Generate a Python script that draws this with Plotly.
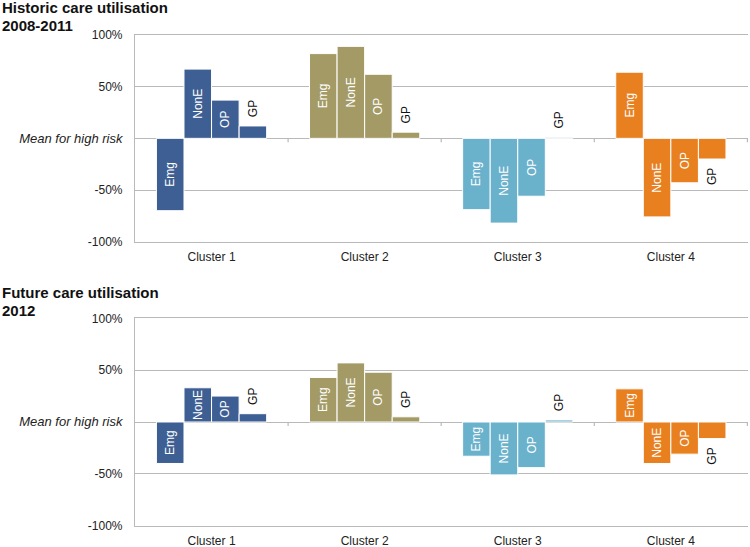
import plotly.graph_objects as go

# ---------------- data ----------------
categories = ["Cluster 1", "Cluster 2", "Cluster 3", "Cluster 4"]
series_names = ["Emg", "NonE", "OP", "GP"]
cluster_colors = ["#3e5f93", "#a39a66", "#6ab1cc", "#e8801f"]

hist_emg = [-70, 82, -69, 64]
hist_none = [67, 89, -82, -76]
hist_op = [37, 62, -56, -43]
hist_gp = [12, 6, 1, -20]

fut_emg = [-40, 43, -33, 32]
fut_none = [33, 57, -51, -40]
fut_op = [25, 48, -44, -31]
fut_gp = [8, 5, 2, -16]

tick_vals = [-100, -50, 0, 50, 100]
tick_text = ["-100%", "-50%", "Mean for high risk", "50%", "100%"]

title_lines = [["Historic care utilisation", "2008-2011"],
               ["Future care utilisation", "2012"]]

# ---------------- figure ----------------
FONT = "Liberation Sans, Arial, Helvetica, sans-serif"
GRID = "#b9b9b9"
W, H = 750, 547

fig = go.Figure()


def gp_text(v):
    pad = "\u00a0\u2009"
    return pad + "GP" if v >= 0 else "GP" + pad


def tick_label(t):
    if t.endswith("%"):
        return t
    return '<span style="font-size:13px"><i>' + t + "</i></span>"


def add_panel(vals_list, xa, ya):
    for name, vals in zip(series_names, vals_list):
        if name == "GP":
            fig.add_trace(go.Bar(
                x=categories, y=vals, name=name,
                text=[gp_text(v) for v in vals],
                textposition="outside", textangle=-90,
                textfont=dict(color="#111111", size=12, family=FONT),
                marker=dict(color=cluster_colors, line=dict(color="white", width=1)),
                cliponaxis=False, constraintext="none",
                xaxis=xa, yaxis=ya, showlegend=False, hoverinfo="skip"))
        else:
            fig.add_trace(go.Bar(
                x=categories, y=vals, name=name,
                text=[name] * len(vals),
                textposition="inside", insidetextanchor="middle", textangle=-90,
                textfont=dict(color="white", size=12, family=FONT),
                marker=dict(color=cluster_colors, line=dict(color="white", width=1)),
                constraintext="none",
                xaxis=xa, yaxis=ya, showlegend=False, hoverinfo="skip"))


add_panel([hist_emg, hist_none, hist_op, hist_gp], "x", "y")
add_panel([fut_emg, fut_none, fut_op, fut_gp], "x2", "y2")

x_dom = [135 / W, 748 / W]
top_dom = [1 - 241.7 / H, 1 - 35 / H]
bot_dom = [1 - 525.7 / H, 1 - 318.3 / H]

xaxis_common = dict(
    domain=x_dom, type="category", categoryorder="array", categoryarray=categories,
    showline=True, mirror=True, linecolor=GRID, linewidth=1.2,
    showgrid=False, ticks="outside", ticklen=4, tickcolor="rgba(0,0,0,0)",
    tickfont=dict(family=FONT, size=12, color="#222222"), fixedrange=True,
    automargin=False,
)
yaxis_common = dict(
    range=[-100, 100], tickvals=tick_vals, ticktext=[tick_label(t) for t in tick_text],
    showline=True, linecolor=GRID, linewidth=1.2,
    showgrid=True, gridcolor=GRID, gridwidth=1.2,
    zeroline=True, zerolinecolor=GRID, zerolinewidth=1.2,
    ticks="outside", ticklen=9, tickcolor="rgba(0,0,0,0)",
    tickfont=dict(family=FONT, size=12, color="#222222"), fixedrange=True,
    automargin=False,
)

fig.update_layout(
    width=W, height=H,
    margin=dict(l=0, r=0, t=0, b=0, autoexpand=False),
    paper_bgcolor="white", plot_bgcolor="white",
    barmode="group", bargap=0.28, bargroupgap=0,
    font=dict(family=FONT, size=12, color="#222222"),
    xaxis=dict(xaxis_common, anchor="y"),
    yaxis=dict(yaxis_common, domain=top_dom, anchor="x"),
    xaxis2=dict(xaxis_common, anchor="y2"),
    yaxis2=dict(yaxis_common, domain=bot_dom, anchor="x2"),
    showlegend=False,
)

# small tick marks on the zero line at category boundaries
shapes = []
for xr, yr in (("x", "y"), ("x2", "y2")):
    for i in range(len(categories)):
        shapes.append(dict(
            type="line", xref=xr, yref=yr, ysizemode="pixel", yanchor=0,
            x0=i + 0.5, x1=i + 0.5, y0=0, y1=-4,
            line=dict(color=GRID, width=1.2)))
fig.update_layout(shapes=shapes)

title_top_px = [-3, 281.5]
for lines, top in zip(title_lines, title_top_px):
    for k, line in enumerate(lines):
        fig.add_annotation(
            text="<b>" + line + "</b>", x=0, y=1 - (top + 18 * k) / H,
            xref="paper", yref="paper",
            xanchor="left", yanchor="top", align="left", showarrow=False,
            font=dict(family=FONT, size=15, color="#111111"))

fig.write_html(
    "out.html",
    config={"displayModeBar": False},
    post_script="document.body.style.margin='0';document.body.style.overflow='hidden';",
)
